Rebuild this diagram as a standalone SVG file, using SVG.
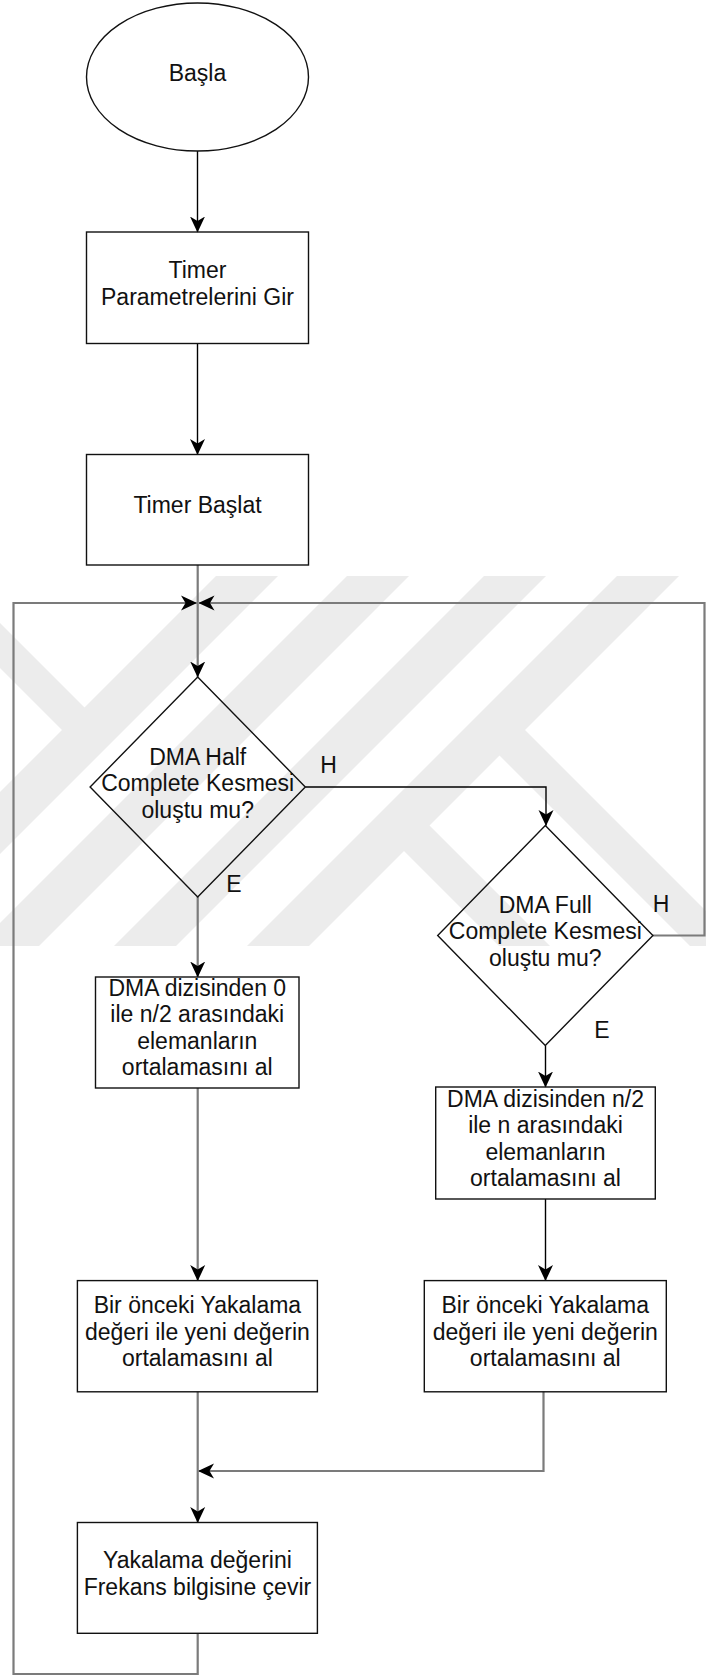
<svg xmlns="http://www.w3.org/2000/svg" width="706" height="1677" viewBox="0 0 706 1677">
<style>
.node{fill:none;stroke:#111;stroke-width:1.4}
.t{font-family:"Liberation Sans",Arial,sans-serif;font-size:23px;fill:#111;text-anchor:middle}
.blk{fill:none;stroke:#000;stroke-width:1.4}
.gry{fill:none;stroke:#7b7b7b;stroke-width:2.2}
.wm{fill:#ececec}
</style>
<defs>
<marker id="arr" markerUnits="userSpaceOnUse" markerWidth="16" markerHeight="16" viewBox="0 0 16 16" refX="15.5" refY="8" orient="auto">
<path d="M16,8 L0,0.5 L4.5,8 L0,15.5 Z" fill="#000"/>
</marker>
<clipPath id="wmclip"><rect x="0" y="576" width="706" height="370"/></clipPath>
</defs>
<rect x="0" y="0" width="706" height="1677" fill="#fff"/>
<g id="watermark" clip-path="url(#wmclip)">
<polygon class="wm" points="216,576 278,576 -92,946 -154,946"/>
<polygon class="wm" points="347,576 409,576 39,946 -23,946"/>
<polygon class="wm" points="484,576 546,576 176,946 114,946"/>
<polygon class="wm" points="617,576 679,576 309,946 247,946"/>
<polygon class="wm" points="-10,613 103.5,726.5 81,749 -10,658"/>
<polygon class="wm" points="512.5,717.5 800,1005 800,1056 487,743"/>
<polygon class="wm" points="417,813 800,1196 800,1247 391.5,838.5"/>
</g>
<g id="connectors">
<line class="blk" x1="197.5" y1="151" x2="197.5" y2="232" marker-end="url(#arr)"/>
<line class="blk" x1="197.5" y1="343.5" x2="197.5" y2="454.5" marker-end="url(#arr)"/>
<line class="gry" x1="197.7" y1="565" x2="197.7" y2="677" marker-end="url(#arr)"/>
<polyline class="blk" points="305.3,787 546,787 546,825.5" stroke="#222" marker-end="url(#arr)"/>
<line class="gry" x1="197.7" y1="897" x2="197.7" y2="977" marker-end="url(#arr)"/>
<line class="blk" x1="545.5" y1="1045.5" x2="545.5" y2="1087" marker-end="url(#arr)"/>
<polyline class="gry" points="653,935.5 704.5,935.5 704.5,603 199,603" marker-end="url(#arr)"/>
<line class="gry" x1="197.7" y1="1088" x2="197.7" y2="1280.6" marker-end="url(#arr)"/>
<line class="blk" x1="545.5" y1="1199" x2="545.5" y2="1280.6" marker-end="url(#arr)"/>
<polyline class="gry" points="543.5,1391.8 543.5,1471 198.5,1471" marker-end="url(#arr)"/>
<line class="gry" x1="197.7" y1="1391.8" x2="197.7" y2="1522.5" marker-end="url(#arr)"/>
<polyline class="gry" points="197.7,1633.3 197.7,1674 13.5,1674 13.5,603 196.5,603" marker-end="url(#arr)"/>
</g>
<g id="start">
<ellipse class="node" cx="197.5" cy="77" rx="111" ry="74"/>
<text class="t" x="197.5" y="80.5">Başla</text>
</g>
<g id="timer-params">
<rect class="node" x="86.5" y="232" width="222" height="111.5"/>
<text class="t" x="197.5" y="278">Timer</text>
<text class="t" x="197.5" y="305">Parametrelerini Gir</text>
</g>
<g id="timer-start">
<rect class="node" x="86.5" y="454.5" width="222" height="110.5"/>
<text class="t" x="197.5" y="512.5">Timer Başlat</text>
</g>
<g id="dma-half">
<polygon class="node" points="197.7,677 305.3,787 197.7,897 90.1,787"/>
<text class="t" x="197.7" y="764.5">DMA Half</text>
<text class="t" x="197.7" y="791">Complete Kesmesi</text>
<text class="t" x="197.7" y="817.5">oluştu mu?</text>
</g>
<g id="label-h1"><text class="t" x="328.5" y="773">H</text></g>
<g id="label-e1"><text class="t" x="234" y="892">E</text></g>
<g id="dma-full">
<polygon class="node" points="545.3,825.5 652.9,935.5 545.3,1045.5 437.7,935.5"/>
<text class="t" x="545.3" y="912.5">DMA Full</text>
<text class="t" x="545.3" y="939">Complete Kesmesi</text>
<text class="t" x="545.3" y="965.5">oluştu mu?</text>
</g>
<g id="label-h2"><text class="t" x="661" y="912">H</text></g>
<g id="label-e2"><text class="t" x="602" y="1037.5">E</text></g>
<g id="avg-first-half">
<rect class="node" x="95.5" y="977" width="203.5" height="111"/>
<text class="t" x="197.3" y="995.5">DMA dizisinden 0</text>
<text class="t" x="197.3" y="1022">ile n/2 arasındaki</text>
<text class="t" x="197.3" y="1048.5">elemanların</text>
<text class="t" x="197.3" y="1075">ortalamasını al</text>
</g>
<g id="avg-second-half">
<rect class="node" x="435.7" y="1087" width="219.6" height="112"/>
<text class="t" x="545.5" y="1106.5">DMA dizisinden n/2</text>
<text class="t" x="545.5" y="1133">ile n arasındaki</text>
<text class="t" x="545.5" y="1159.5">elemanların</text>
<text class="t" x="545.5" y="1186">ortalamasını al</text>
</g>
<g id="avg-capture-left">
<rect class="node" x="77.4" y="1280.6" width="240" height="111.2"/>
<text class="t" x="197.4" y="1313">Bir önceki Yakalama</text>
<text class="t" x="197.4" y="1339.5">değeri ile yeni değerin</text>
<text class="t" x="197.4" y="1366">ortalamasını al</text>
</g>
<g id="avg-capture-right">
<rect class="node" x="424.3" y="1280.6" width="242" height="111.2"/>
<text class="t" x="545.3" y="1313">Bir önceki Yakalama</text>
<text class="t" x="545.3" y="1339.5">değeri ile yeni değerin</text>
<text class="t" x="545.3" y="1366">ortalamasını al</text>
</g>
<g id="to-frequency">
<rect class="node" x="77.4" y="1522.5" width="240" height="110.8"/>
<text class="t" x="197.4" y="1568">Yakalama değerini</text>
<text class="t" x="197.4" y="1594.5">Frekans bilgisine çevir</text>
</g>
</svg>
